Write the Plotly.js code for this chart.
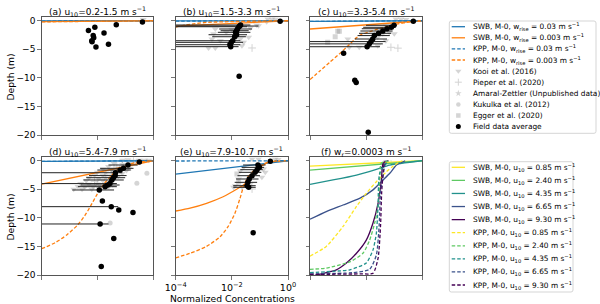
<!DOCTYPE html>
<html><head><meta charset="utf-8">
<script src="https://cdn.plot.ly/plotly-3.0.1.min.js"></script>
<style>html,body{margin:0;padding:0;background:#fff}#chart{width:600px;height:304px}</style>
</head><body><div id="chart"></div>
<script>
// ================= DATA (x values are log10 of normalized concentration, z = depth in m) =================
const panelTitles = [
  '(a) u<sub>10</sub>=0.2-1.5 m s<sup>−1</sup>',
  '(b) u<sub>10</sub>=1.5-3.3 m s<sup>−1</sup>',
  '(c) u<sub>10</sub>=3.3-5.4 m s<sup>−1</sup>',
  '(d) u<sub>10</sub>=5.4-7.9 m s<sup>−1</sup>',
  '(e) u<sub>10</sub>=7.9-10.7 m s<sup>−1</sup>',
  '(f) w<sub>r</sub>=0.0003 m s<sup>−1</sup>'
];
const yTickVals = [0, -5, -10, -15, -20];
const yTickText = ['0', '−5', '−10', '−15', '−20'];
const xTickVals = [1e-4, 1e-2, 1];
const xTickText = ['10<sup>−4</sup>', '10<sup>−2</sup>', '10<sup>0</sup>'];

// field data averages (log10 c), depth, error-bar bounds (log10 c; null = none)
const a_dot_lc = [-2.32,-2.09,-2.15,-2.13,-2.2,-2.19,-2.05,-1.76,-1.6,-1.32,-0.38];
const a_dot_z  = [-1.7,-1.15,-2.6,-3.0,-3.5,-3.7,-4.6,-2.15,-4.1,-0.7,-0.23];
const a_lo = [null,null,null,null,null,null,null,null,null,null,null];
const a_hi = [null,null,null,null,null,null,null,null,null,null,null];

const b_dot_lc = [-1.69,-1.72,-1.75,-1.8,-1.83,-1.87,-1.83,-1.9,-1.97,-2.02,-2.07,-2.04,-0.28,-1.74];
const b_dot_z  = [-0.75,-0.93,-1.05,-1.45,-1.75,-2.03,-2.45,-2.8,-3.5,-3.78,-4.2,-4.54,-0.1,-9.7];
const b_lo = [-6,-6,-6,-2.45,-2.4,-2.5,-2.83,-2.7,-6,-6,-6,-6,null,null];
const b_hi = [-1.34,-1.05,-1.46,-1.28,-1.4,-1.34,-1.46,-1.5,-1.7,-1.6,-1.7,-1.76,null,null];

const c_dot_lc = [-0.31,-1.0,-1.1,-1.25,-1.4,-1.55,-1.7,-1.76,-1.82,-1.88,-1.96,-2.8,-2.4,-2.35,-1.92];
const c_dot_z  = [-0.1,-0.8,-1.15,-1.4,-1.8,-2.2,-2.6,-3.2,-3.65,-4.05,-4.55,-5.7,-10.4,-10.8,-19.5];
const c_lo = [null,-2.0,-2.1,-2.15,-2.2,-2.25,-2.3,-2.4,-6,-6,-6,null,null,null,null];
const c_hi = [null,-0.9,-0.95,-1.0,-1.05,-1.1,-1.15,-1.25,-1.3,-1.4,-1.5,null,null,null,null];

const d_dot_lc = [-0.49,-0.9,-1.06,-1.18,-1.35,-1.36,-1.42,-1.48,-1.55,-1.63,-1.72,-1.93,-1.82,-1.5,-1.23,-0.72,-1.9,-1.41,-1.86];
const d_dot_z  = [-0.23,-0.75,-1.33,-1.63,-2.1,-2.6,-2.97,-3.37,-4.0,-4.25,-4.54,-5.12,-7.05,-8.04,-8.62,-9.08,-11.07,-13.6,-18.5];
const d_lo = [null,-1.6,-1.9,-2.0,-6,-2.3,-2.4,-2.5,-6,-2.6,-2.7,-2.9,null,-6,null,null,-6,null,null];
const d_hi = [null,-0.55,-0.7,-0.8,-1.1,-0.95,-1.0,-1.05,-1.3,-1.2,-1.3,-1.4,null,-1.25,null,null,-1.6,null,null];

const e_dot_lc = [-0.63,-1.07,-1.02,-1.1,-1.17,-1.28,-1.38,-1.43,-1.46,-1.4,-1.24];
const e_dot_z  = [-0.1,-0.75,-1.16,-1.57,-2.03,-2.62,-3.2,-3.78,-4.37,-4.65,-12.6];
const e_lo = [null,-1.6,-1.65,-1.7,-1.75,-1.8,-1.85,-1.9,-1.95,-1.95,null];
const e_hi = [null,-0.8,-0.85,-0.9,-0.95,-1.0,-1.05,-1.1,-1.15,-1.15,null];

// individual observations (grey). src: 0 Kooi, 1 Pieper, 2 Amaral-Zettler, 3 Kukulka, 4 Egger
const a_gray_lc = [-0.35];
const a_gray_z  = [0.2];
const a_gray_src = [0];

const b_gray_lc = [-0.72,-0.57,-0.45,-0.76,-1.12,-1.05,-1.34,-2.59,-2.65,-2.71,-2.41,-1.7,-1.4,-1.58,-2.83,-2.59,-1.28,-1.64,-1.88,-2.2,-2.0];
const b_gray_z  = [0.3,0.3,0.3,-0.17,-0.75,-0.87,-1.28,-1.45,-2.3,-3.2,-3.5,-3.2,-2.9,-3.78,-4.77,-4.77,-4.77,-4.37,-3.2,-2.0,-1.6];
const b_gray_src = [0,0,0,0,0,0,0,0,0,0,0,0,0,0,0,0,1,0,0,0,0];

const c_gray_lc = [-3.01,-2.95,-3.1,-3.37,-0.93,-0.75,-0.57,-1.29,-1.17,-1.4,-1.58,-2.65,-2.6,-2.24,-1.58,-1.29,-0.99,-1.47,-1.11,-0.86];
const c_gray_z  = [-1.86,-1.86,-2.8,-3.78,0.3,0.3,0.2,-0.87,-2.03,-2.3,-2.9,-3.2,-4.65,-4.65,-4.37,-3.5,-2.3,-1.45,-4.65,-4.8];
const c_gray_src = [4,4,4,4,0,0,0,0,0,0,0,0,0,0,0,0,0,0,1,1];

const d_gray_lc = [-0.5,-0.3,-0.7,-0.9,-1.1,-0.15, -1.4,-1.1,-0.8,-0.6, -1.6,-1.3,-1.0,-0.85, -1.8,-1.5,-1.2,-0.95,
  -2.0,-1.7,-1.4,-1.1, -2.1,-1.8,-1.5,-1.25, -2.3,-1.95,-1.7,-1.4, -2.4,-2.1,-1.8,-1.5, -2.6,-2.3,-2.0,-1.7,-1.45,
  -2.7,-2.45,-2.15,-1.9,-1.6, -2.85,-2.55,-2.2,-1.9, -0.22,-0.58,-1.54];
const d_gray_z  = [0.1,0.1,0.1,0.15,0.1,0.1, -0.5,-0.6,-0.5,-0.4, -1.0,-1.1,-0.9,-1.2, -1.5,-1.6,-1.5,-1.7,
  -2.0,-2.1,-2.0,-2.2, -2.5,-2.6,-2.5,-2.7, -3.0,-3.1,-3.0,-3.2, -3.5,-3.6,-3.5,-3.7, -4.0,-4.1,-4.0,-4.2,-4.0,
  -4.5,-4.6,-4.5,-4.7,-4.6, -5.0,-5.0,-5.0,-5.0, -2.2,-3.95,-10.9];
const d_gray_src = [0,0,1,0,0,0, 0,2,0,0, 0,1,0,2, 0,0,1,0,
  0,2,0,0, 0,0,1,0, 0,0,2,0, 0,1,0,0, 0,0,2,0,1,
  0,0,0,1,0, 0,0,0,1, 3,3,3];

const e_gray_lc = [-1.28,-1.05,-0.46,-0.35,-1.7,-1.58,-0.87,-0.81,-0.93,-1.76,-1.88,-1.64,-1.94,-1.28,-1.34,-1.82,-1.76];
const e_gray_z  = [0.3,0.3,0.3,0.2,-1.75,-1.16,-1.45,-2.03,-2.9,-3.2,-4.37,-4.65,-4.65,-4.95,-4.07,-2.33,-3.78];
const e_gray_src = [0,0,0,0,0,0,0,0,0,0,0,0,0,1,0,4,4];

// model profiles (log10 c, depth)
const a_swb03_lc = [-4, 0],  a_swb03_z = [-0.04, 0];
const a_swb003_lc = [-4, 0], a_swb003_z = [-0.15, 0];
const a_kpp03_lc = [-4, 0],  a_kpp03_z = [-0.06, 0];
const a_kpp003_lc = [-4, -2, 0], a_kpp003_z = [-0.2, -0.1, 0];

const b_swb03_lc = [-4, 0],  b_swb03_z = [-0.03, 0];
const b_swb003_lc = [-4, 0], b_swb003_z = [-0.95, 0];
const b_kpp03_lc = [-4, 0],  b_kpp03_z = [-0.06, 0];
const b_kpp003_lc = [-4,-3.65,-3.3,-2.9,-2,-1,0], b_kpp003_z = [-1.1,-0.75,-0.5,-0.3,-0.15,-0.07,0];

const c_swb03_lc = [-4, 0],  c_swb03_z = [-0.1, 0];
const c_swb003_lc = [-4, 0], c_swb003_z = [-1.45, 0];
const c_kpp03_lc = [-4, 0],  c_kpp03_z = [-0.12, 0];
const c_kpp003_lc = [-4.0,-3.65,-3.3,-2.95,-2.6,-2.35,-2.15,-1.8,-1.4,-0.9,-0.4,0];
const c_kpp003_z  = [-10.3,-8.8,-7.3,-5.8,-4.2,-3.0,-2.4,-1.8,-1.2,-0.6,-0.2,0];

const d_swb03_lc = [-4, 0],  d_swb03_z = [-0.1, 0];
const d_swb003_lc = [-4, 0], d_swb003_z = [-4.1, 0];
const d_kpp03_lc = [-4, 0],  d_kpp03_z = [-0.12, 0];
const d_kpp003_lc = [-4,-3.5,-3.1,-2.7,-2.45,-2.25,-2.0,-1.75,-1.5,-1.25,-0.9,-0.5,0];
const d_kpp003_z  = [-15.4,-14.3,-13.0,-11.2,-9.6,-8.0,-5.8,-4.0,-2.6,-1.5,-0.7,-0.2,0];

const e_swb03_lc = [-4, 0],  e_swb03_z = [-2.35, 0];
const e_swb003_lc = [-4,-3.49,-2.9,-2.31,-1.83,-1.59,-1.36,-1.12,-0.88,-0.64,0];
const e_swb003_z  = [-8.8,-8.3,-7.45,-6.3,-5.0,-4.25,-3.08,-1.63,-0.75,-0.17,0];
const e_kpp03_lc = [-4, 0],  e_kpp03_z = [-0.05, 0];
const e_kpp003_lc = [-4,-3.49,-2.9,-2.42,-2.13,-1.89,-1.71,-1.59,-1.42,-1.12,-0.76,-0.4];
const e_kpp003_z  = [-17.0,-16.2,-15.0,-13.3,-11.5,-9.2,-6.6,-4.6,-2.8,-1.33,-0.35,0];

// panel (f): u10 values and profiles
const f_u10 = ['0.85', '2.40', '4.35', '6.65', '9.30'];
const f_colors = ['#fde725', '#5ec962', '#21918c', '#3b528b', '#440154'];
const f_swb_lc = [
  [-4, 0],
  [-4, 0],
  [-4,-3.18,-2.34,-1.63,-1.15,0],
  [-4,-3.42,-2.82,-2.23,-1.75,-1.39,-1.15,-0.91,-0.6],
  [-4,-3.42,-3.06,-2.7,-2.34,-1.99,-1.75,-1.57,-1.45,-1.39,-1.2]
];
const f_swb_z = [
  [-0.95, 0],
  [-1.63, 0],
  [-4.13,-3.37,-2.5,-1.5,-0.75,0],
  [-10.25,-8.9,-7.75,-6.6,-5.1,-3.37,-2.2,-0.75,0],
  [-20.3,-19.6,-19.1,-17.9,-16.2,-13.9,-10.9,-7.45,-3.37,-0.45,0]
];
const f_kpp_lc = [
  [-4,-3.42,-2.82,-2.34,-1.99,-1.63,-1.27,-1.03,-0.85,-0.7],
  [-4,-3.42,-2.58,-2.11,-1.87,-1.69,-1.57,-1.51,-1.45,-1.1],
  [-4,-3.0,-2.58,-1.99,-1.75,-1.63,-1.57,-1.51,-1.2],
  [-4,-2.5,-1.87,-1.63,-1.53,-1.48,-1.3],
  [-4,-2.2,-1.75,-1.57,-1.48,-1.44,-1.35]
];
const f_kpp_z = [
  [-16.7,-15.0,-11.5,-8.0,-5.7,-3.67,-1.92,-0.93,-0.35,0],
  [-19.0,-18.8,-17.7,-16.2,-13.9,-10.9,-8.0,-3.4,-0.4,0],
  [-19.6,-19.3,-19.1,-17.9,-15.6,-12.7,-8.0,-2.2,0],
  [-19.8,-19.6,-19.0,-16.5,-11.3,-5.5,0],
  [-19.9,-19.8,-19.7,-17.1,-11.3,-5.5,0]
];

// legend labels
const legend1Labels = [
  'SWB, M-0, w<sub>rise</sub> = 0.03 m s<sup>−1</sup>',
  'SWB, M-0, w<sub>rise</sub> = 0.003 m s<sup>−1</sup>',
  'KPP, M-0, w<sub>rise</sub> = 0.03 m s<sup>−1</sup>',
  'KPP, M-0, w<sub>rise</sub> = 0.003 m s<sup>−1</sup>',
  'Kooi et al. (2016)', 'Pieper et al. (2020)', 'Amaral-Zettler (Unpublished data)',
  'Kukulka et al. (2012)', 'Egger et al. (2020)', 'Field data average'
];

// ================= STYLE =================
const FONT = 'DejaVu Sans';
const BLUE = '#1f77b4', ORANGE = '#ff7f0e';
const GRAY = '#9a9a9a';
const GRAY_OP = 0.42;
const srcSymbols = ['triangle-down', 'cross-thin', 'star', 'circle', 'square'];
const srcSizes = [6, 5.5, 5.5, 5, 5];
const LW = 1.3;
const DASH = '3.5px,2px';
const LEG_FS = 7.4;

function L(v) { return v.map(x => x === null ? null : Math.pow(10, x)); }
function sfx(k) { return k === 1 ? '' : String(k); }

const panels = [
  {dl:a_dot_lc, dz:a_dot_z, lo:a_lo, hi:a_hi, gl:a_gray_lc, gz:a_gray_z, gs:a_gray_src,
   m:[[a_swb03_lc,a_swb03_z],[a_swb003_lc,a_swb003_z],[a_kpp03_lc,a_kpp03_z],[a_kpp003_lc,a_kpp003_z]]},
  {dl:b_dot_lc, dz:b_dot_z, lo:b_lo, hi:b_hi, gl:b_gray_lc, gz:b_gray_z, gs:b_gray_src,
   m:[[b_swb03_lc,b_swb03_z],[b_swb003_lc,b_swb003_z],[b_kpp03_lc,b_kpp03_z],[b_kpp003_lc,b_kpp003_z]]},
  {dl:c_dot_lc, dz:c_dot_z, lo:c_lo, hi:c_hi, gl:c_gray_lc, gz:c_gray_z, gs:c_gray_src,
   m:[[c_swb03_lc,c_swb03_z],[c_swb003_lc,c_swb003_z],[c_kpp03_lc,c_kpp03_z],[c_kpp003_lc,c_kpp003_z]]},
  {dl:d_dot_lc, dz:d_dot_z, lo:d_lo, hi:d_hi, gl:d_gray_lc, gz:d_gray_z, gs:d_gray_src,
   m:[[d_swb03_lc,d_swb03_z],[d_swb003_lc,d_swb003_z],[d_kpp03_lc,d_kpp03_z],[d_kpp003_lc,d_kpp003_z]]},
  {dl:e_dot_lc, dz:e_dot_z, lo:e_lo, hi:e_hi, gl:e_gray_lc, gz:e_gray_z, gs:e_gray_src,
   m:[[e_swb03_lc,e_swb03_z],[e_swb003_lc,e_swb003_z],[e_kpp03_lc,e_kpp03_z],[e_kpp003_lc,e_kpp003_z]]}
];
const modelStyles = [
  {color: BLUE, dash: 'solid'}, {color: ORANGE, dash: 'solid'},
  {color: BLUE, dash: DASH}, {color: ORANGE, dash: DASH}
];

const traces = [];
panels.forEach((p, i) => {
  const k = i + 1, xa = 'x' + sfx(k), ya = 'y' + sfx(k);
  for (let s = 0; s < 5; s++) {
    const idx = p.gs.map((v, j) => v === s ? j : -1).filter(j => j >= 0);
    if (!idx.length) continue;
    traces.push({
      type: 'scatter', mode: 'markers', xaxis: xa, yaxis: ya, hoverinfo: 'skip',
      x: L(idx.map(j => p.gl[j])), y: idx.map(j => p.gz[j]),
      marker: {symbol: srcSymbols[s], size: srcSizes[s], color: GRAY, opacity: GRAY_OP,
               line: {color: GRAY, width: s === 1 ? 1 : 0}}
    });
  }
  p.m.forEach((mm, j) => {
    traces.push({
      type: 'scatter', mode: 'lines', xaxis: xa, yaxis: ya, hoverinfo: 'skip',
      x: L(mm[0]), y: mm[1],
      line: {color: modelStyles[j].color, width: LW, dash: modelStyles[j].dash, shape: 'spline', smoothing: 0.6}
    });
  });
  const xv = L(p.dl), hiA = L(p.hi), loA = L(p.lo);
  traces.push({
    type: 'scatter', mode: 'markers', xaxis: xa, yaxis: ya, hoverinfo: 'skip',
    x: xv, y: p.dz,
    error_x: {type: 'data', symmetric: false,
      array: xv.map((v, j) => p.hi[j] === null ? 0 : hiA[j] - v),
      arrayminus: xv.map((v, j) => p.lo[j] === null ? 0 : v - loA[j]),
      color: '#222', thickness: 1, width: 0},
    marker: {color: '#000', size: 5.5}
  });
});
for (let j = 0; j < 5; j++) {
  traces.push({type: 'scatter', mode: 'lines', xaxis: 'x6', yaxis: 'y6', hoverinfo: 'skip',
    x: L(f_swb_lc[j]), y: f_swb_z[j], line: {color: f_colors[j], width: LW, shape: 'spline', smoothing: 0.6}});
}
for (let j = 0; j < 5; j++) {
  traces.push({type: 'scatter', mode: 'lines', xaxis: 'x6', yaxis: 'y6', hoverinfo: 'skip',
    x: L(f_kpp_lc[j]), y: f_kpp_z[j], line: {color: f_colors[j], width: LW, dash: DASH, shape: 'spline', smoothing: 0.6}});
}

// ================= LAYOUT =================
const colX = [[41.7, 153], [175.7, 288], [310, 422]];
const rowY = [[17.3, 135], [157.3, 275]];
const AXC = '#555';
const layout = {
  width: 600, height: 304, margin: {l: 0, r: 0, t: 0, b: 0},
  paper_bgcolor: '#fff', plot_bgcolor: 'rgba(0,0,0,0)', showlegend: false,
  font: {family: FONT, size: 9, color: '#000'},
  annotations: [], shapes: []
};
for (let k = 1; k <= 6; k++) {
  const col = (k - 1) % 3, row = Math.floor((k - 1) / 3), s = sfx(k);
  layout['xaxis' + s] = {
    domain: [colX[col][0] / 600, colX[col][1] / 600], anchor: 'y' + s,
    type: 'log', range: [-4, 0], tickvals: xTickVals, ticktext: xTickText,
    showticklabels: k === 5, ticks: 'outside', ticklen: 3.5, tickwidth: 0.8, tickcolor: AXC,
    showline: true, mirror: true, linecolor: AXC, linewidth: 1, showgrid: false, zeroline: false,
    tickfont: {family: FONT, size: 9.5, color: '#000'}, fixedrange: true
  };
  layout['yaxis' + s] = {
    domain: [(304 - rowY[row][1]) / 304, (304 - rowY[row][0]) / 304], anchor: 'x' + s,
    range: [-20, 0.6], tickvals: yTickVals, ticktext: yTickText,
    showticklabels: col === 0, ticks: 'outside', ticklen: 3.5, tickwidth: 0.8, tickcolor: AXC,
    showline: true, mirror: true, linecolor: AXC, linewidth: 1, showgrid: false, zeroline: false,
    tickfont: {family: FONT, size: 9, color: '#000'}, fixedrange: true
  };
  layout.annotations.push({xref: 'x7', yref: 'y7', x: (colX[col][0] + colX[col][1]) / 2,
    y: row === 0 ? 11 : 151, text: panelTitles[k - 1], showarrow: false,
    xanchor: 'center', yanchor: 'middle', font: {family: FONT, size: 9, color: '#000'}});
}
layout.xaxis7 = {domain: [0, 1], range: [0, 600], visible: false, anchor: 'y7', fixedrange: true};
layout.yaxis7 = {domain: [0, 1], range: [304, 0], visible: false, anchor: 'x7', fixedrange: true};

[77, 217].forEach(yc => layout.annotations.push({xref: 'x7', yref: 'y7', x: 9.5, y: yc, text: 'Depth (m)',
  textangle: -90, showarrow: false, xanchor: 'center', yanchor: 'middle', font: {family: FONT, size: 9.2}}));
layout.annotations.push({xref: 'x7', yref: 'y7', x: 232, y: 298.5, text: 'Normalized Concentrations',
  showarrow: false, xanchor: 'center', yanchor: 'middle', font: {family: FONT, size: 9.2}});

function roundRect(x0, y0, x1, y1, r) {
  return `M${x0 + r},${y0} L${x1 - r},${y0} Q${x1},${y0} ${x1},${y0 + r} L${x1},${y1 - r} Q${x1},${y1} ${x1 - r},${y1} ` +
         `L${x0 + r},${y1} Q${x0},${y1} ${x0},${y1 - r} L${x0},${y0 + r} Q${x0},${y0} ${x0 + r},${y0} Z`;
}
layout.shapes.push({type: 'path', xref: 'x7', yref: 'y7', path: roundRect(449.3, 21, 596, 133.3, 2),
  line: {color: '#d5d5d5', width: 1}, fillcolor: '#fff', layer: 'below'});
layout.shapes.push({type: 'path', xref: 'x7', yref: 'y7', path: roundRect(449.3, 161.7, 573, 292, 2),
  line: {color: '#d5d5d5', width: 1}, fillcolor: '#fff', layer: 'below'});

const LG_X0 = 451.7, LG_X1 = 465, LG_TX = 471;
const lg1Y0 = 26.7, lg1dy = 11.1, lg2Y0 = 167.3, lg2dy = 13.08;
legend1Labels.forEach((t, i) => {
  const yc = lg1Y0 + i * lg1dy;
  layout.annotations.push({xref: 'x7', yref: 'y7', x: LG_TX, y: yc, text: t, showarrow: false,
    xanchor: 'left', yanchor: 'middle', font: {family: FONT, size: LEG_FS}});
  if (i < 4) {
    traces.push({type: 'scatter', mode: 'lines', xaxis: 'x7', yaxis: 'y7', hoverinfo: 'skip',
      x: [LG_X0, LG_X1], y: [yc, yc], line: {color: modelStyles[i].color, width: LW, dash: modelStyles[i].dash}});
  } else if (i < 9) {
    const s = i - 4;
    traces.push({type: 'scatter', mode: 'markers', xaxis: 'x7', yaxis: 'y7', hoverinfo: 'skip',
      x: [(LG_X0 + LG_X1) / 2], y: [yc],
      marker: {symbol: srcSymbols[s], size: srcSizes[s] - 0.5, color: GRAY, opacity: GRAY_OP,
               line: {color: GRAY, width: s === 1 ? 1 : 0}}});
  } else {
    traces.push({type: 'scatter', mode: 'markers', xaxis: 'x7', yaxis: 'y7', hoverinfo: 'skip',
      x: [(LG_X0 + LG_X1) / 2], y: [yc], marker: {color: '#000', size: 5}});
  }
});
for (let i = 0; i < 10; i++) {
  const yc = lg2Y0 + i * lg2dy, j = i % 5, kpp = i >= 5;
  layout.annotations.push({xref: 'x7', yref: 'y7', x: LG_TX, y: yc,
    text: (kpp ? 'KPP' : 'SWB') + ', M-0, u<sub>10</sub> = ' + f_u10[j] + ' m s<sup>−1</sup>',
    showarrow: false, xanchor: 'left', yanchor: 'middle', font: {family: FONT, size: LEG_FS}});
  traces.push({type: 'scatter', mode: 'lines', xaxis: 'x7', yaxis: 'y7', hoverinfo: 'skip',
    x: [LG_X0, LG_X1], y: [yc, yc], line: {color: f_colors[j], width: LW, dash: kpp ? DASH : 'solid'}});
}

Plotly.newPlot('chart', traces, layout, {staticPlot: true, displayModeBar: false});
</script></body></html>
